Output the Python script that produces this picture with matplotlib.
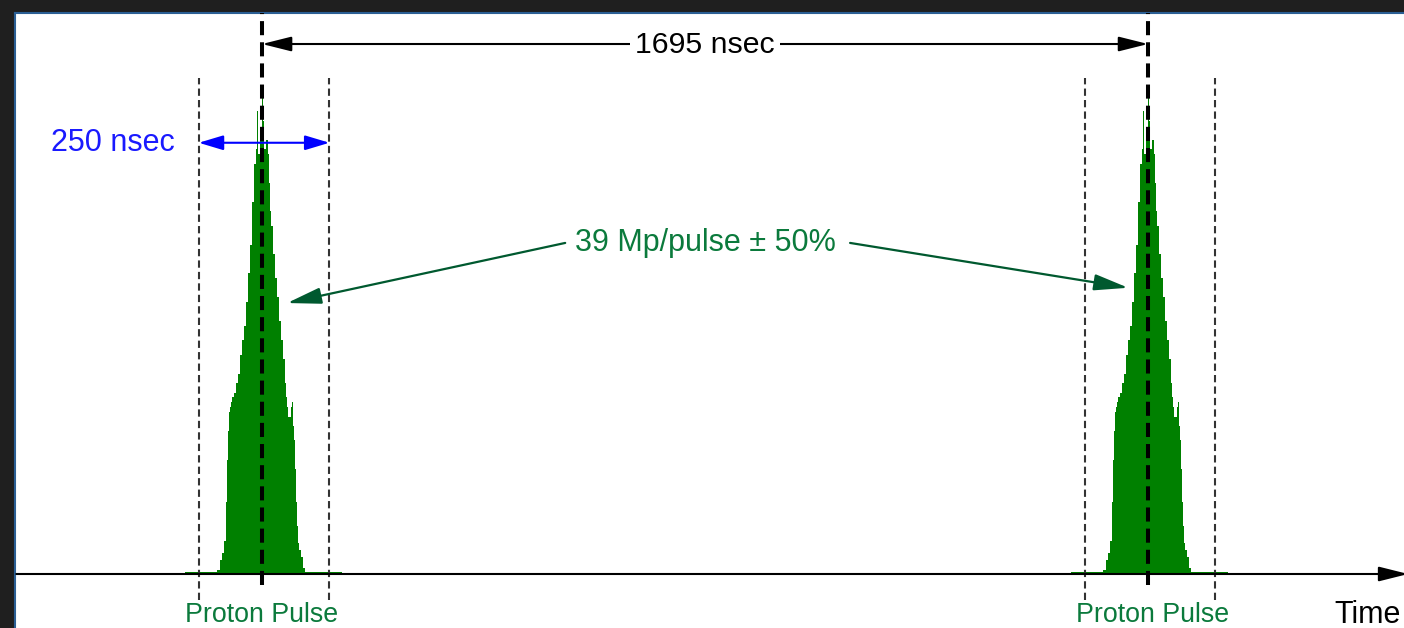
import numpy as np
import matplotlib
matplotlib.use("Agg")
import matplotlib.pyplot as plt

plt.rcParams['font.family'] = ['Liberation Sans', 'DejaVu Sans']

# pulse spacing and window (nsec)
period = 1695
window_left = -121
window_right = 129
pulse_centers = [0, period]
label_x = [0, period + 8]

# pulse profile: bin edges (ns from pulse centre) and relative height
edges = [-147, -86, -80, -77, -73, -69, -67, -65, -63, -61,
         -59, -57, -54, -50, -46, -42, -38, -34, -31, -27,
         -23, -19, -15, -11, -10, -8, -4, 0, 2, 4,
         8, 11, 13, 15, 17, 21, 25, 29, 33, 36,
         40, 44, 46, 48, 50, 52, 55, 57, 59, 61,
         63, 65, 67, 69, 71, 75, 78, 82, 153]
heights = [0.004, 0.008, 0.03, 0.045, 0.07, 0.15, 0.24, 0.30, 0.34, 0.35,
           0.36, 0.37, 0.38, 0.40, 0.42, 0.46, 0.49, 0.52, 0.57, 0.63,
           0.69, 0.78, 0.86, 0.89, 0.97, 0.88, 0.93, 1.0, 0.95, 0.89,
           0.91, 0.88, 0.82, 0.76, 0.73, 0.67, 0.62, 0.58, 0.53, 0.49,
           0.45, 0.40, 0.37, 0.35, 0.33, 0.33, 0.35, 0.36, 0.31, 0.28,
           0.22, 0.15, 0.10, 0.065, 0.05, 0.036, 0.012, 0.004]

green_txt = '#0b7a3c'
green_arrow = '#00592f'

fig = plt.figure(figsize=(14.04, 6.28), dpi=100, facecolor='#1f1f1f')
ax = fig.add_axes([15/1404, 0, 1389/1404, 615/628])
ax.set_xlim(-472.5, 2184.6)
ax.set_ylim(-0.1132, 1.176)
ax.set_xticks([])
ax.set_yticks([])
for s in ['right', 'bottom']:
    ax.spines[s].set_visible(False)
for s in ['left', 'top']:
    ax.spines[s].set_color('#2b5f94')
    ax.spines[s].set_linewidth(1.5)

e = np.array(edges)
for c, lx in zip(pulse_centers, label_x):
    ax.stairs(heights, e + c, fill=True, color='#008000', zorder=2)
    # window limits
    for w in [window_left, window_right]:
        ax.plot([c + w, c + w], [-0.055, 1.04], color='#333333', lw=1.5,
                dashes=(3.5, 2), zorder=3)
    # pulse centre
    ax.plot([c, c], [-0.023, 1.2], color='black', lw=2.9,
            dashes=(3.5, 1.75), zorder=4)
    ax.text(lx, -0.086, 'Proton Pulse', color=green_txt, fontsize=19.3,
            ha='center', va='center')

# time axis
ax.annotate('', xy=(2184.6 + 8, 0), xytext=(-470, 0),
            arrowprops=dict(arrowstyle='-|>,head_length=1.8,head_width=0.45',
                            color='black', lw=1.5, shrinkA=0, shrinkB=0),
            annotation_clip=False, zorder=5)
ax.text(2179, -0.086, 'Time', fontsize=22, ha='right', va='center')

# spacing arrow
ax.annotate('', xy=(period, 1.111), xytext=(0, 1.111),
            arrowprops=dict(arrowstyle='<|-|>,head_length=1.8,head_width=0.45',
                            color='black', lw=1.5, shrinkA=0, shrinkB=0), zorder=5)
ax.text(period / 2, 1.109, '1695 nsec', fontsize=21.8, ha='center', va='center',
        bbox=dict(facecolor='white', edgecolor='none', pad=4), zorder=6)

# window arrow
ax.annotate('', xy=(window_right, 0.904), xytext=(window_left, 0.904),
            arrowprops=dict(arrowstyle='<|-|>,head_length=1.5,head_width=0.45',
                            color='#0000ff', lw=1.5, shrinkA=0, shrinkB=0), zorder=5)
ax.text(-166, 0.904, '250 nsec', color='#1a1aff', fontsize=22,
        ha='right', va='center')

# intensity label
ax.text(period / 2, 0.694, '39 Mp/pulse \u00b1 50%', color=green_txt, fontsize=22,
        ha='center', va='center')
ax.annotate('', xy=(48, 0.568), xytext=(580, 0.694),
            arrowprops=dict(arrowstyle='-|>,head_length=2.1,head_width=0.5',
                            color=green_arrow, lw=1.6, shrinkA=0, shrinkB=0), zorder=5)
ax.annotate('', xy=(1657, 0.60), xytext=(1125, 0.694),
            arrowprops=dict(arrowstyle='-|>,head_length=2.1,head_width=0.5',
                            color=green_arrow, lw=1.6, shrinkA=0, shrinkB=0), zorder=5)

fig.savefig('out.png', dpi=100, facecolor=fig.get_facecolor())
